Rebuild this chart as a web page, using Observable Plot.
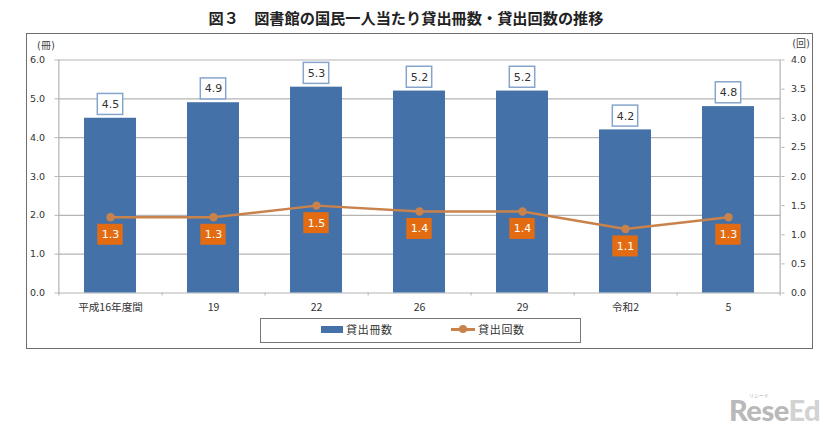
<!DOCTYPE html>
<html>
<head>
<meta charset="utf-8">
<script src="https://cdn.jsdelivr.net/npm/d3@7"></script>
<script src="https://cdn.jsdelivr.net/npm/@observablehq/plot@0.6"></script>
<style>
  html, body { margin: 0; background: #fff; }
  body { position: relative; width: 826px; height: 425px; overflow: hidden; font-family: "DejaVu Sans", "Noto Sans CJK JP", sans-serif; color: #333; }
  #title { position: absolute; left: 0; top: 6px; width: 812px; text-align: center; font: bold 15.2px "Noto Sans CJK JP", sans-serif; color: #222; white-space: nowrap; }
  #frame { position: absolute; left: 26px; top: 33px; width: 787px; height: 316px; box-sizing: border-box; border: 1.5px solid #6e6e6e; }
  #frame svg { display: block; }
  #legend { position: absolute; left: 233px; top: 283.5px; width: 321px; height: 25px; box-sizing: border-box; border: 1.5px solid #777; background: #fff; font: 11px "Noto Sans CJK JP", sans-serif; letter-spacing: .7px; }
  #legend span { position: absolute; }
  #wm { position: absolute; left: 729px; top: 393px; font: 900 29px "Lato", sans-serif; letter-spacing: -.5px; color: #b9b9b9; line-height: 34px; white-space: nowrap; }
  #wm b { color: #d2d2d2; font-weight: 900; }
  #wm-small { position: absolute; left: 749px; top: 391px; font: 5px "Noto Sans CJK JP", sans-serif; color: #aaa; }
</style>
</head>
<body>
<div id="title">図３　図書館の国民一人当たり貸出冊数・貸出回数の推移</div>
<div id="frame">
  <div id="chart"></div>
  <div id="legend">
    <span style="left:60px;top:7.5px;width:22px;height:7px;background:#4472a8"></span>
    <span style="left:85px;top:2px">貸出冊数</span>
    <span style="left:190px;top:9.5px;width:24px;height:2.5px;background:#c9824b"></span>
    <span style="left:198px;top:6.5px;width:8px;height:8px;border-radius:50%;background:#c9824b"></span>
    <span style="left:217px;top:2px">貸出回数</span>
  </div>
</div>
<div id="wm">Rese<b>Ed</b></div>
<div id="wm-small">リシード</div>
<script>
const categories = ["平成16年度間", "19", "22", "26", "29", "令和2", "5"];
const bookCounts = [4.5, 4.9, 5.3, 5.2, 5.2, 4.2, 4.8];
const lendCounts = [1.3, 1.3, 1.5, 1.4, 1.4, 1.1, 1.3];
const leftTicks = [0, 1, 2, 3, 4, 5, 6];
const rightTicks = [0, 0.5, 1, 1.5, 2, 2.5, 3, 3.5, 4];

const width = 784, height = 313;
const marginLeft = 30.5, marginRight = 30.5, marginTop = 25.5, marginBottom = 54.5;

// right axis runs 0-4 on the same height as the left 0-6
const toLeft = (v) => v * 6 / 4;
const pxPerUnit = (height - marginTop - marginBottom) / 6;
const step = (width - marginLeft - marginRight) / categories.length;
const boxH = 21 / pxPerUnit;

const table = categories.map((c, i) => ({ c, books: bookCounts[i], lends: lendCounts[i] }));

const chart = Plot.plot({
  width, height, marginLeft, marginRight, marginTop, marginBottom,
  style: { fontFamily: "'DejaVu Sans', 'Noto Sans CJK JP', sans-serif", fontSize: "9px", color: "#333", background: "transparent" },
  x: { domain: categories, paddingInner: 0.5, paddingOuter: 0.25, label: null },
  y: { domain: [0, 6], label: null },
  marks: [
    Plot.ruleY(leftTicks, { stroke: "#b4b4b4", strokeWidth: 1.2 }),
    Plot.ruleX([categories[0]], { x: (d) => d, dx: -step / 2, y1: -3 / pxPerUnit, y2: 6, stroke: "#b4b4b4", strokeWidth: 1.2 }),
    Plot.ruleX([categories[6]], { x: (d) => d, dx: step / 2, y1: -3 / pxPerUnit, y2: 6, stroke: "#b4b4b4", strokeWidth: 1.2 }),
    Plot.ruleX(categories.slice(0, 6), { x: (d) => d, dx: step / 2, y1: -3 / pxPerUnit, y2: 0, stroke: "#b4b4b4" }),
    Plot.axisX({ tickSize: 0, tickPadding: 10, label: null, fontSize: 10.6, fontFamily: "'Noto Sans CJK JP', sans-serif", fill: "#333" }),
    Plot.axisY(leftTicks, { anchor: "left", tickSize: 3, tickPadding: 10, stroke: "#b4b4b4", fill: "#333", tickFormat: d3.format(".1f"), label: null, fontSize: 9.5 }),
    Plot.axisY(rightTicks.map(toLeft), { anchor: "right", tickSize: 3, tickPadding: 7, stroke: "#b4b4b4", fill: "#333", tickFormat: (d) => (d * 4 / 6).toFixed(1), label: null, fontSize: 9.5 }),
    Plot.barY(table, { x: "c", y: "books", fill: "#4472a8" }),
    Plot.line(table, { x: "c", y: (d) => toLeft(d.lends), stroke: "#c9824b", strokeWidth: 2.5 }),
    Plot.dot(table, { x: "c", y: (d) => toLeft(d.lends), r: 4.2, fill: "#c9824b" }),
    Plot.barY(table, { x: "c", y1: "books", y2: (d) => d.books + boxH, dy: -3.3, insetLeft: 13.3, insetRight: 13.3, fill: "#fff", stroke: "#86a5cc", strokeWidth: 1.5 }),
    Plot.text(table, { x: "c", y: "books", dy: -13.8, text: (d) => d.books.toFixed(1), fontSize: 11, fill: "#333" }),
    Plot.barY(table, { x: "c", y1: (d) => toLeft(d.lends), y2: (d) => toLeft(d.lends) - boxH, dy: 7, insetLeft: 13.3, insetRight: 13.3, fill: "#e36c12" }),
    Plot.text(table, { x: "c", y: (d) => toLeft(d.lends), dy: 17.5, text: (d) => d.lends.toFixed(1), fontSize: 11, fill: "#fff" }),
    Plot.text(["(冊)"], { frameAnchor: "top-left", dx: -21, dy: -18, fontSize: 10, textAnchor: "start", fill: "#444" }),
    Plot.text(["(回)"], { frameAnchor: "top-right", dx: 29, dy: -20, fontSize: 10, textAnchor: "end", fill: "#444" })
  ]
});

d3.select("#chart").append(() => chart);
</script>
</body>
</html>
